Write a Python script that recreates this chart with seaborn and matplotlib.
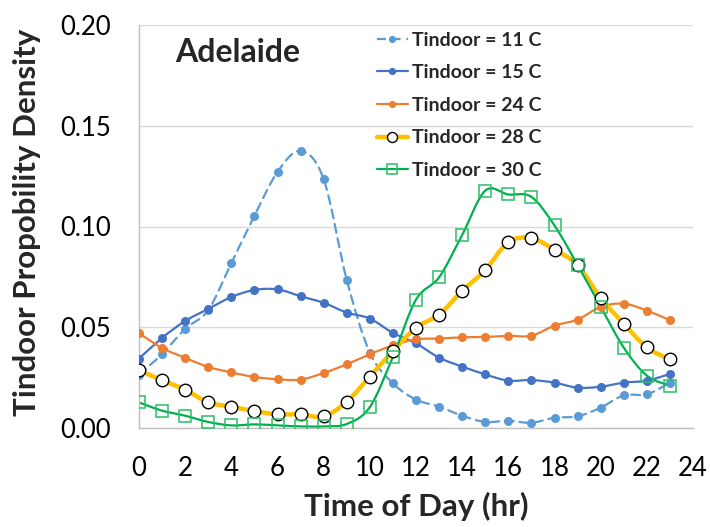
import numpy as np
import pandas as pd
import seaborn as sns
import matplotlib
matplotlib.use("Agg")
import matplotlib.pyplot as plt
from matplotlib.path import Path
from matplotlib.patches import PathPatch
from matplotlib.lines import Line2D

# ---------------- data ----------------
hours = list(range(24))
labels = ["Tindoor = 11 C", "Tindoor = 15 C", "Tindoor = 24 C",
          "Tindoor = 28 C", "Tindoor = 30 C"]
t11 = [0.0265, 0.0367, 0.0492, 0.0585, 0.0818, 0.1053, 0.1271, 0.1375,
       0.1235, 0.0735, 0.0374, 0.0222, 0.0141, 0.0106, 0.0061, 0.0030,
       0.0036, 0.0026, 0.0051, 0.0058, 0.0101, 0.0162, 0.0167, 0.0225]
t15 = [0.0344, 0.0447, 0.0531, 0.0591, 0.0650, 0.0685, 0.0688, 0.0654,
       0.0621, 0.0573, 0.0543, 0.0472, 0.0420, 0.0349, 0.0305, 0.0266,
       0.0235, 0.0238, 0.0225, 0.0200, 0.0205, 0.0225, 0.0235, 0.0268]
t24 = [0.0470, 0.0397, 0.0348, 0.0303, 0.0276, 0.0253, 0.0242, 0.0240,
       0.0273, 0.0316, 0.0366, 0.0410, 0.0440, 0.0444, 0.0450, 0.0452,
       0.0457, 0.0458, 0.0508, 0.0538, 0.0601, 0.0617, 0.0583, 0.0535]
t28 = [0.0286, 0.0237, 0.0190, 0.0127, 0.0106, 0.0084, 0.0068, 0.0068,
       0.0058, 0.0131, 0.0255, 0.0381, 0.0498, 0.0563, 0.0680, 0.0784,
       0.0922, 0.0942, 0.0884, 0.0809, 0.0645, 0.0518, 0.0400, 0.0341]
t30 = [0.0127, 0.0086, 0.0061, 0.0030, 0.0013, 0.0018, 0.0013, 0.0008,
       0.0008, 0.0020, 0.0104, 0.0353, 0.0637, 0.0748, 0.0958, 0.1178,
       0.1159, 0.1147, 0.1005, 0.0809, 0.0602, 0.0399, 0.0260, 0.0210]
xticks = list(range(0, 25, 2))
yticks = [0.00, 0.05, 0.10, 0.15, 0.20]

series = [t11, t15, t24, t28, t30]

# ---------------- style ----------------
sns.set_theme(style="white")
FONT = ["Lato", "DejaVu Sans"]
plt.rcParams["font.family"] = FONT

styles = [
    dict(color="#5B9BD5", lw=1.6, ls=(0, (4, 2.6)), marker="o", ms=6.5,
         mfc="#5B9BD5", mec="#5B9BD5", mew=0),
    dict(color="#4472C4", lw=1.6, ls="-", marker="o", ms=6.5,
         mfc="#4472C4", mec="#4472C4", mew=0),
    dict(color="#ED7D31", lw=1.6, ls="-", marker="o", ms=6.5,
         mfc="#ED7D31", mec="#ED7D31", mew=0),
    dict(color="#FFC000", lw=3.2, ls="-", marker="o", ms=9,
         mfc="white", mec="black", mew=1.0),
    dict(color="#00B050", lw=1.6, ls="-", marker="s", ms=8.5,
         mfc="none", mec="#2BBF66", mew=1.1),
]

fig = plt.figure(figsize=(7.10, 5.27), dpi=100)
ax = fig.add_axes([139 / 710, 1 - 428 / 527, (693 - 139) / 710, (428 - 25) / 527])


def smooth_path(xs, ys):
    xs = np.asarray(xs, float)
    ys = np.asarray(ys, float)
    pts = np.column_stack([xs, ys])
    n = len(pts)
    verts = [pts[0]]
    codes = [Path.MOVETO]
    for i in range(n - 1):
        p0 = pts[i - 1] if i > 0 else pts[i]
        p1 = pts[i]
        p2 = pts[i + 1]
        p3 = pts[i + 2] if i + 2 < n else pts[i + 1]
        c1 = p1 + (p2 - p0) / 6.0
        c2 = p2 - (p3 - p1) / 6.0
        verts += [c1, c2, p2]
        codes += [Path.CURVE4] * 3
    return Path(verts, codes)


handles = []
for vals, st, lab in zip(series, styles, labels):
    patch = PathPatch(smooth_path(hours, vals), fill=False, edgecolor=st["color"],
                      lw=st["lw"], linestyle=st["ls"], capstyle="round",
                      joinstyle="round", zorder=2)
    ax.add_patch(patch)
    df = pd.DataFrame({"hour": hours, "value": vals})
    sns.lineplot(data=df, x="hour", y="value", ax=ax, linestyle="",
                 marker=st["marker"], markersize=st["ms"],
                 markerfacecolor=st["mfc"], markeredgecolor=st["mec"],
                 markeredgewidth=st["mew"], color=st["color"], zorder=3)
    handles.append(Line2D([], [], color=st["color"], lw=st["lw"],
                          linestyle=st["ls"], marker=st["marker"],
                          markersize=st["ms"] * 0.8,
                          markerfacecolor=st["mfc"], markeredgecolor=st["mec"],
                          markeredgewidth=st["mew"]))

ax.set_xlim(0, 24)
ax.set_ylim(0, 0.20)
ax.set_xticks(xticks)
ax.set_yticks(yticks)
ax.set_yticklabels([f"{v:.2f}" for v in yticks])
ax.yaxis.grid(True, color="#D9D9D9", lw=1.0)
ax.xaxis.grid(False)
ax.set_axisbelow(True)
for s in ["top", "right"]:
    ax.spines[s].set_visible(False)
for s in ["left", "bottom"]:
    ax.spines[s].set_color("#BFBFBF")
    ax.spines[s].set_linewidth(1.0)
ax.tick_params(axis="both", length=0, pad=20, labelsize=18.5, labelcolor="black")

ax.set_xlabel("Time of Day (hr)", fontsize=22.5, fontweight="bold")
ax.set_ylabel("Tindoor Propobility Density", fontsize=22.5, fontweight="bold")
ax.xaxis.set_label_coords(0.5, -0.158)
ax.yaxis.set_label_coords(-0.176, 0.51)
ax.text(1.56, 0.1814, "Adelaide", fontsize=23, fontweight="bold",
        ha="left", va="baseline")

leg = ax.legend(handles, labels, loc="upper left", bbox_to_anchor=(0.41, 1.01),
                frameon=False, fontsize=14, handlelength=1.6, handletextpad=0.2,
                labelspacing=0.8, borderaxespad=0.15)
for t in leg.get_texts():
    t.set_fontweight("bold")

fig.savefig("out.png", dpi=100)
